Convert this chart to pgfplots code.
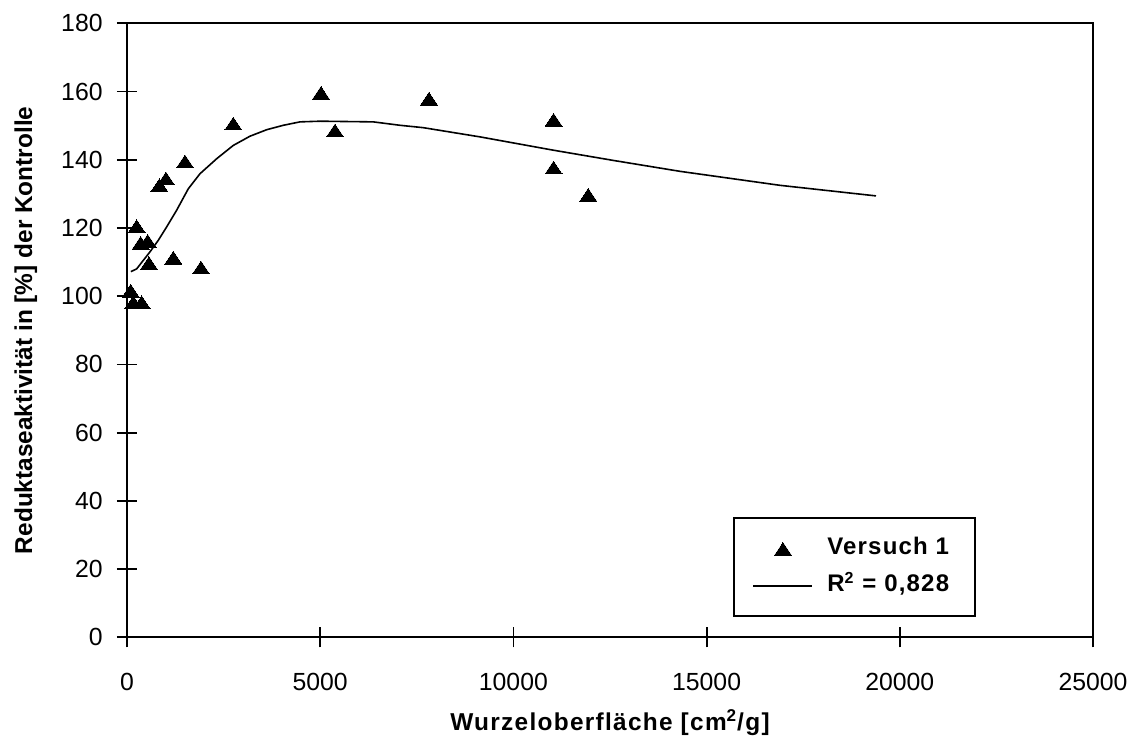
\documentclass[border=0pt]{standalone}
\usepackage{fontspec}
\setmainfont{Liberation Sans}
\usepackage{pgfplots}
\pgfplotsset{compat=1.18}

% legend pictograms for the two series
\pgfplotsset{
  tri legend/.style={legend image code/.code={\path[##1] plot[only marks] coordinates {(14.75pt,0pt)};}},
  fit legend/.style={legend image code/.code={\draw[##1] (0pt,0pt) -- (29.5pt,0pt);}},
}

\begin{document}
\begin{tikzpicture}
\path[use as bounding box] (-63.5pt,-50.35pt) rectangle (503.5pt,318.65pt);
\begin{axis}[
  scale only axis, width=483pt, height=307pt,
  xmin=0, xmax=25000, ymin=0, ymax=180,
  xtick={0,5000,10000,15000,20000,25000},
  ytick={0,20,40,60,80,100,120,140,160,180},
  scaled x ticks=false,
  /pgf/number format/1000 sep={},
  /pgf/number format/assume math mode=true,
  tick label style={font=\fontsize{12.4}{14}\selectfont, inner sep=0pt},
  xticklabel style={anchor=base, yshift=-21.6pt},
  yticklabel style={anchor=east, xshift=-7pt},
  tick align=center, major tick length=10pt, tick pos=left,
  axis line style={line width=0.9pt},
  every tick/.style={black, line width=0.9pt},
  xlabel={\bfseries\addfontfeatures{LetterSpace=5.3}Wurzeloberfläche [cm\textsuperscript{2}/g]},
  ylabel={\bfseries Reduktaseaktivität in [\%] der Kontrolle},
  label style={font=\fontsize{12.2}{14}\selectfont, inner sep=0pt},
  xlabel style={at={(axis description cs:0.5,-0.1521)}, anchor=base},
  ylabel style={at={(axis description cs:-0.0983,0.5)}, anchor=base},
  legend style={at={(rel axis cs:0.8789,0.0326)}, anchor=south east,
    draw=black, line width=0.9pt,
    font=\fontsize{12}{14}\selectfont\bfseries\addfontfeatures{LetterSpace=5},
    inner xsep=9.5pt, inner ysep=9.25pt,
    nodes={inner sep=0pt, text height=9pt, text depth=3pt},
    row sep=6.5pt, column sep=7pt},
  legend cell align=left,
]
\addplot[only marks, mark=triangle*, mark size=4.9pt,
  mark options={fill=black, draw=black, line width=0pt, yshift=-1.07pt, yscale=0.87},
  tri legend]
coordinates {
  (95,101.6) (164,98.2) (380,98.2) (250,120.5) (354,115.6) (535,116.2)
  (569,109.7) (1199,111.3) (1915,108.4) (837,132.5) (1009,134.5)
  (1501,139.5) (2751,150.6) (5021,159.6) (5383,148.6) (7816,157.9)
  (11040,151.7) (11040,137.7) (11937,129.7)
};
\addlegendentry{Versuch 1\hspace*{3.5pt}}
\addplot[black, line width=0.8pt, no marks, fit legend]
coordinates {
  (100,107.2) (250,108.0) (422,110.5) (595,113.0) (811,116.4) (1026,120.3)
  (1285,125.2) (1587,131.5) (1889,135.9) (2321,140.3) (2751,144.2)
  (3183,146.9) (3615,148.8) (4046,150.1) (4477,151.1) (5000,151.3)
  (6374,151.1) (7065,150.1) (7669,149.4) (9136,146.7) (11033,142.8)
  (12586,139.8) (14311,136.6) (16899,132.5) (19384,129.4)
};
\addlegendentry{R\textsuperscript{2} = 0,828\hspace*{3.5pt}}
\end{axis}
\end{tikzpicture}
\end{document}
